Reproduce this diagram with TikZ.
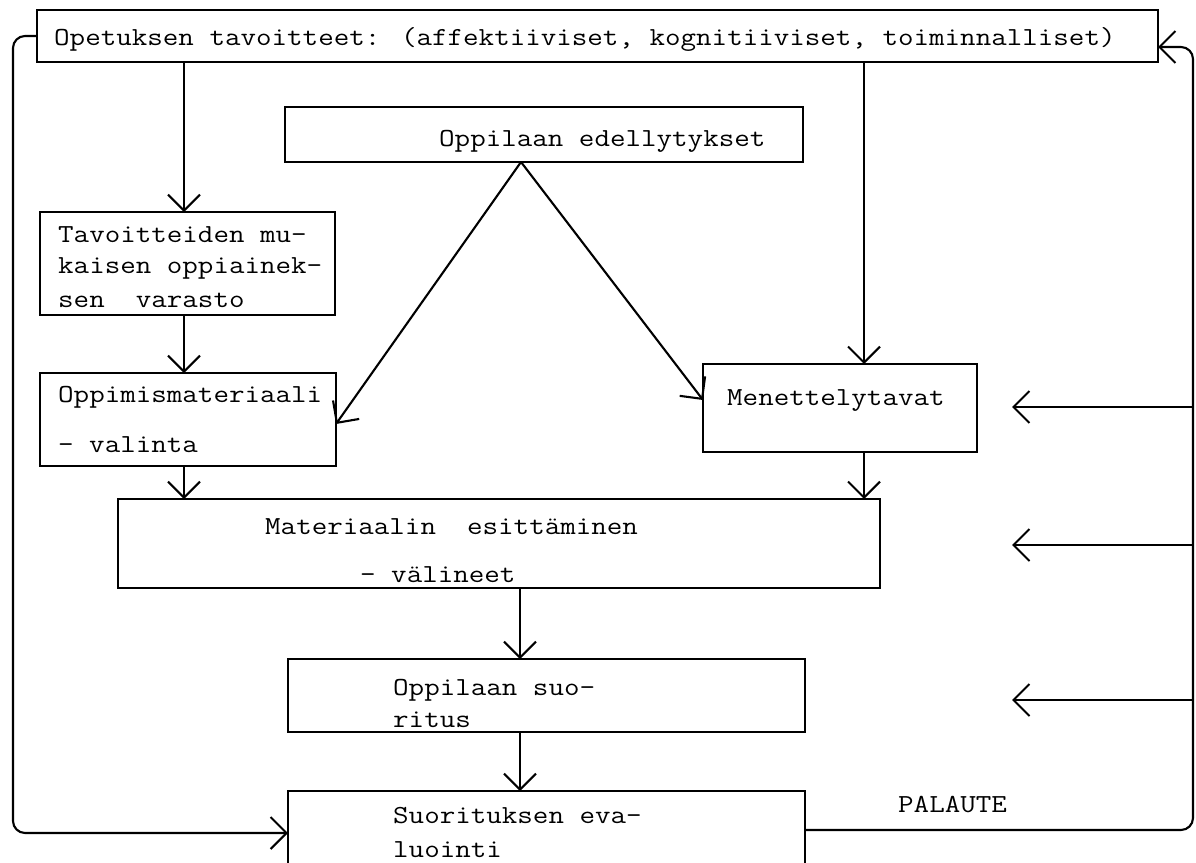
\documentclass[tikz,border=0pt]{standalone}
\usepackage{graphicx}
\usetikzlibrary{arrows.meta,fit}
\newcommand{\tw}[1]{\scalebox{1.16}[1]{#1}}
\begin{document}
\begin{tikzpicture}[x=1bp,y=-1bp,
  box/.style={draw, line width=2.6bp, inner sep=0pt, outer sep=0pt},
  conn/.style={line width=2.1bp},
  arr/.style={conn, -{Straight Barb[length=16bp,width=32bp]}},
  txt/.style={inner sep=0pt, anchor=base west, font=\ttfamily\fontsize{26bp}{32bp}\selectfont},
  loop/.style={rounded corners=12bp}]
\useasboundingbox[fill=white] (0,0) rectangle (1196,863);

% boxes
\node[box, fit={(37,10) (1158,62)}] (A) {};
\node[box, fit={(285,107) (803,162)}] (B) {};
\node[box, fit={(40,212) (335,315)}] (C) {};
\node[box, fit={(40,373) (336,466)}] (D) {};
\node[box, fit={(703,364) (977,452)}] (E) {};
\node[box, fit={(118,499) (880,588)}] (F) {};
\node[box, fit={(288,659) (805,732)}] (G) {};
\node[box, fit={(288,791) (805,900)}] (H) {};

% texts
\node[txt] (tA) at (54,45) {\tw{Opetuksen tavoitteet: (affektiiviset, kognitiiviset, toiminnalliset)}};
\node[txt] (tB) at (439,146) {\tw{Oppilaan edellytykset}};
\node[txt] (tC1) at (58,242) {\tw{Tavoitteiden mu-}};
\node[txt] (tC2) at (58,273) {\tw{kaisen oppiainek-}};
\node[txt] (tC3) at (58,307) {\tw{sen~~varasto}};
\node[txt] (tD1) at (58,402) {\tw{Oppimismateriaali}};
\node[txt] (tD2) at (58,452) {\tw{- valinta}};
\node[txt] (tE) at (727,405) {\tw{Menettelytavat}};
\node[txt] (tF1) at (265,534) {\tw{Materiaalin~~esittäminen}};
\node[txt] (tF2) at (360,582) {\tw{- välineet}};
\node[txt] (tG1) at (393,695) {\tw{Oppilaan suo-}};
\node[txt] (tG2) at (393,727) {\tw{ritus}};
\node[txt] (tH1) at (393,823) {\tw{Suorituksen eva-}};
\node[txt] (tH2) at (393,857) {\tw{luointi}};
\node[txt] (pal) at (898,812) {\tw{PALAUTE}};

% helper coordinates
\coordinate (xl) at (184,0);
\coordinate (xr) at (864,0);
\coordinate (xm) at (520,0);
\coordinate (xap) at (521,0);
\coordinate (yd) at (0,424);
\coordinate (ye) at (0,400);
\coordinate (Lb) at (13,833);
\coordinate (Rb) at (1193,830);
\coordinate (Rt) at (1193,47);
\coordinate (r1) at (1193,407);
\coordinate (t1) at (1012,407);
\coordinate (r2) at (1193,545);
\coordinate (t2) at (1012,545);
\coordinate (r3) at (1193,700);
\coordinate (t3) at (1012,700);

% vertical flow
\draw[arr] (A.south -| xl) -- (C.north -| xl);
\draw[arr] (C.south -| xl) -- (D.north -| xl);
\draw[arr] (D.south -| xl) -- (F.north -| xl);
\draw[arr] (A.south -| xr) -- (E.north -| xr);
\draw[arr] (E.south -| xr) -- (F.north -| xr);
\draw[arr] (F.south -| xm) -- (G.north -| xm);
\draw[arr] (G.south -| xm) -- (H.north -| xm);

% from Oppilaan edellytykset
\draw[arr] (B.south -| xap) -- (D.east |- yd);
\draw[arr] (B.south -| xap) -- (E.west |- ye);

% loops
\draw[arr, loop] (A.west) -| (Lb) -- (Lb -| H.west);
\draw[arr, loop] (Rb -| H.east) -- (Rb) -- (Rt) -- (Rt -| A.east);

% feedback arrows
\draw[arr] (r1) -- (t1);
\draw[arr] (r2) -- (t2);
\draw[arr] (r3) -- (t3);
\end{tikzpicture}
\end{document}
